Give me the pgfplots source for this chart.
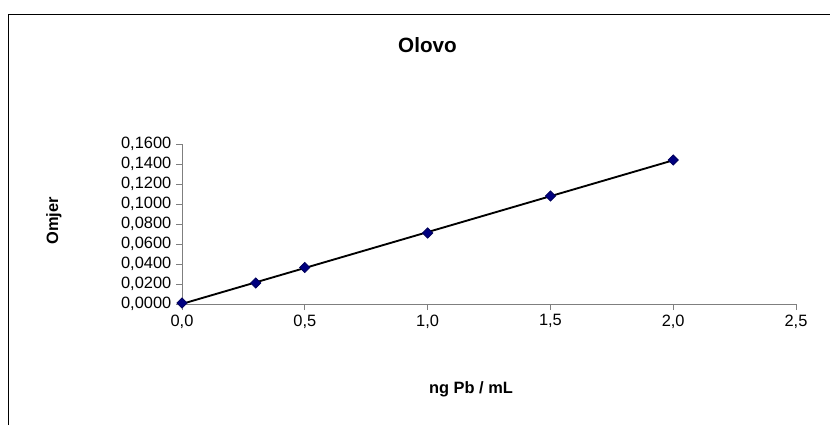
\documentclass[border=0pt]{standalone}
\usepackage{pgfplots}
\pgfplotsset{compat=1.18}
\usepackage{fontspec}
\setmainfont{Liberation Sans}
\definecolor{navy}{HTML}{000080}
\definecolor{axgray}{HTML}{7F7F7F}
\begin{document}
\begin{tikzpicture}[x=0.75pt,y=0.75pt]
\useasboundingbox (0,0) rectangle (830,425);
\draw[black, line width=0.9pt] (8.3,0) -- (8.3,410.7) -- (830,410.7);
\node[font=\bfseries\fontsize{15.5}{18}\selectfont] at (427.5,379.5) {Olovo};
\node[font=\bfseries\fontsize{12.3}{14}\selectfont] at (471,36) {ng Pb / mL};
\node[font=\bfseries\fontsize{12.3}{14}\selectfont, rotate=90] at (54,204) {Omjer};
\begin{axis}[
  at={(136.5pt,90.75pt)}, anchor=south west,
  scale only axis, width=460.5pt, height=120pt,
  xmin=0, xmax=2.5, ymin=0, ymax=0.16,
  axis lines=left, axis line style={axgray, -, line width=0.75pt},
  xtick={0,0.5,1,1.5,2,2.5},
  ytick={0,0.02,0.04,0.06,0.08,0.1,0.12,0.14,0.16},
  tick style={axgray, line width=0.75pt},
  tick align=outside, major tick length=4.5pt,
  xticklabel style={/pgf/number format/.cd, fixed, fixed zerofill, precision=1, use comma},
  yticklabel style={/pgf/number format/.cd, fixed, fixed zerofill, precision=4, use comma},
  scaled y ticks=false,
  /pgf/number format/assume math mode=true,
  ticklabel style={font=\fontsize{12.3}{14}\selectfont},
  clip=false,
]
\addplot[black, line width=1.4pt, no markers] coordinates {(0,0.0001) (2,0.1437)};
\addplot[only marks, mark=square*, mark size=2.7pt, mark options={rotate=45, fill=navy, draw=navy!70!black, line width=0.6pt}] coordinates {
(0,0.001) (0.3,0.021) (0.5,0.0365) (1,0.071) (1.5,0.108) (2,0.144)};
\end{axis}
\end{tikzpicture}
\end{document}
